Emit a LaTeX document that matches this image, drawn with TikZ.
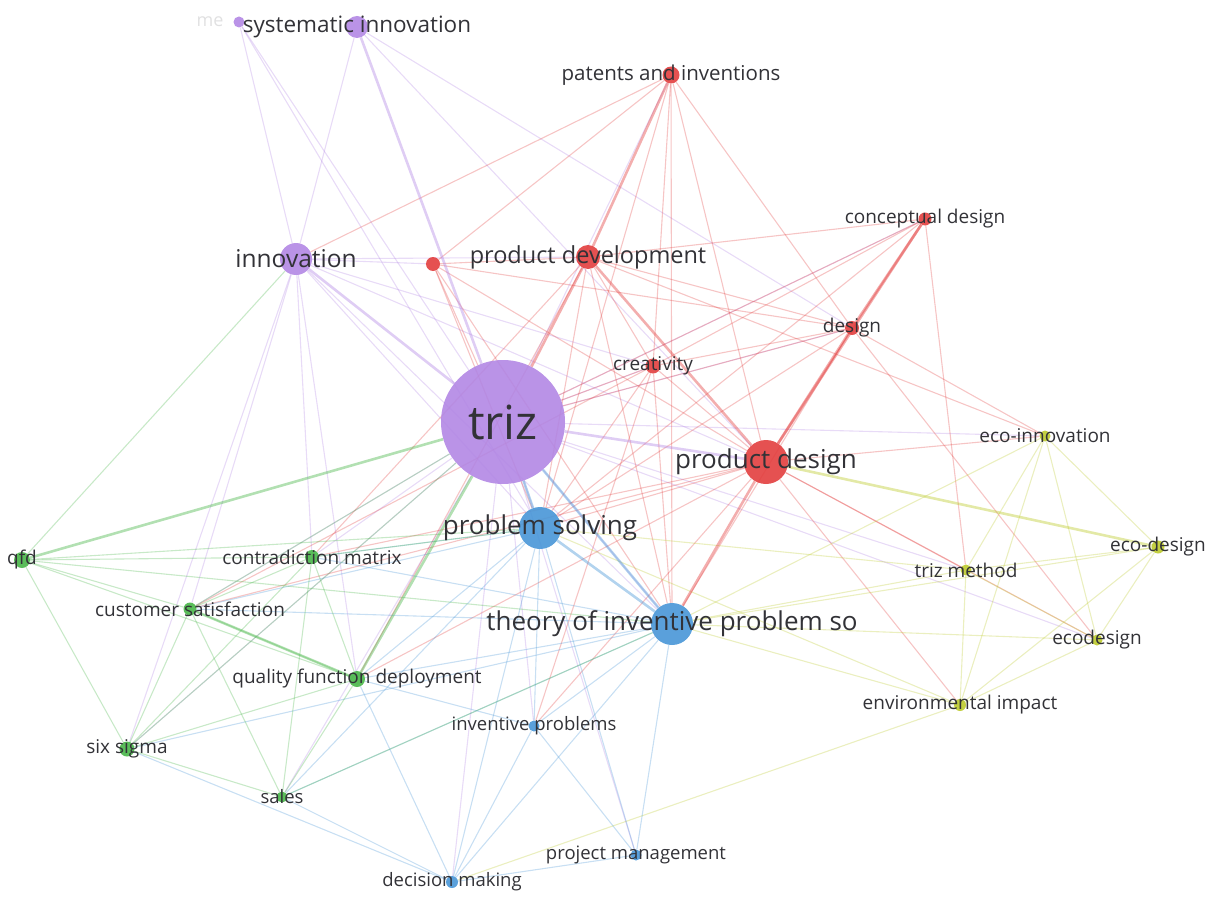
\documentclass[tikz,border=0pt]{standalone}
\usepackage{fontspec}
\setmainfont{Open Sans}
\pgfdeclarelayer{bg}
\pgfsetlayers{bg,main}
\definecolor{cp}{RGB}{178,135,228}
\definecolor{cr}{RGB}{226,62,62}
\definecolor{cb}{RGB}{72,150,215}
\definecolor{cg}{RGB}{72,182,72}
\definecolor{cy}{RGB}{188,202,44}
\definecolor{lbltext}{RGB}{50,50,55}
\tikzset{
  kw/.style 2 args={circle, inner sep=0pt, minimum size=#2pt, fill=#1, fill opacity=0.9, draw=none},
  lbl/.style={text=lbltext, inner sep=0pt, font=\fontsize{#1}{#1}\selectfont},
  ln/.style={draw=#1, draw opacity=0.3, line width=1.1pt},
  lnw/.style={draw=#1, draw opacity=0.42, line width=2.6pt},
}
\begin{document}
\begin{tikzpicture}[x=1pt,y=-1pt]
\useasboundingbox (0,0) rectangle (1222,896);
% keyword circles
\node[kw={cp}{124}] (triz) at (503,422) {};
\node[kw={cp}{22}] (sysinn) at (357,27) {};
\node[kw={cp}{11}] (me) at (239,22) {};
\node[kw={cp}{32}] (innov) at (296,259) {};
\node[kw={cr}{17}] (pat) at (671,75) {};
\node[kw={cr}{13}] (concept) at (925,219) {};
\node[kw={cr}{14}] (rsmall) at (433,264) {};
\node[kw={cr}{24}] (proddev) at (588,257) {};
\node[kw={cr}{14}] (design) at (852,328) {};
\node[kw={cr}{15}] (creat) at (653,366) {};
\node[kw={cr}{44}] (proddes) at (766,462) {};
\node[kw={cy}{11}] (ecoinn) at (1045,436) {};
\node[kw={cy}{13}] (ecodes) at (1158,547) {};
\node[kw={cy}{11}] (trizm) at (966,570) {};
\node[kw={cy}{11}] (ecod) at (1097,640) {};
\node[kw={cy}{12}] (env) at (960,705) {};
\node[kw={cb}{42}] (probsolv) at (540,528) {};
\node[kw={cb}{42}] (theory) at (672,624) {};
\node[kw={cb}{11}] (invprob) at (534,726) {};
\node[kw={cb}{11}] (projm) at (636,855) {};
\node[kw={cb}{12}] (decm) at (452,882) {};
\node[kw={cg}{16}] (qfd) at (22,560) {};
\node[kw={cg}{14}] (contra) at (312,557) {};
\node[kw={cg}{13}] (custsat) at (190,609) {};
\node[kw={cg}{16}] (qfdep) at (357,679) {};
\node[kw={cg}{15}] (sixs) at (127,749) {};
\node[kw={cg}{11}] (sales) at (282,797) {};
% co-occurrence links
\begin{pgfonlayer}{bg}
\foreach \a/\b in {me/innov,me/triz,me/probsolv,sysinn/innov,sysinn/proddes,sysinn/design,
  innov/proddev,innov/rsmall,innov/probsolv,innov/theory,innov/contra,innov/custsat,innov/sixs,
  innov/proddes,innov/creat,innov/qfdep,triz/probsolv,triz/theory,triz/contra,triz/custsat,
  triz/sixs,triz/sales,triz/invprob,triz/decm,triz/projm,triz/creat,triz/design,triz/concept,
  triz/pat,triz/ecoinn,triz/trizm,triz/ecod}
  \draw[ln=cp] (\a) -- (\b);
\foreach \a/\b in {pat/rsmall,pat/innov,pat/proddes,pat/design,pat/creat,pat/theory,pat/probsolv,
  concept/proddev,concept/creat,concept/trizm,concept/triz,concept/probsolv,rsmall/proddev,
  rsmall/triz,rsmall/probsolv,rsmall/proddes,rsmall/design,rsmall/theory,proddev/creat,
  proddev/design,proddev/probsolv,proddev/theory,proddev/qfdep,proddev/contra,proddev/ecoinn,
  design/creat,design/triz,design/ecoinn,design/ecod,design/theory,design/probsolv,
  creat/proddes,creat/triz,creat/probsolv,creat/theory,creat/invprob,creat/custsat,
  proddes/probsolv,proddes/ecoinn,proddes/trizm,proddes/ecod,proddes/env,
  proddes/qfdep,proddes/contra,proddes/custsat,proddes/invprob}
  \draw[ln=cr] (\a) -- (\b);
\foreach \a/\b in {ecoinn/ecodes,ecoinn/ecod,ecoinn/trizm,ecoinn/env,ecoinn/theory,
  ecodes/trizm,ecodes/ecod,ecodes/env,ecodes/theory,trizm/ecod,trizm/env,trizm/theory,
  ecod/env,ecod/theory,env/theory,env/probsolv,env/decm,trizm/probsolv}
  \draw[ln=cy] (\a) -- (\b);
\foreach \a/\b in {probsolv/invprob,probsolv/projm,probsolv/decm,probsolv/qfdep,probsolv/contra,
  probsolv/custsat,probsolv/sales,theory/invprob,theory/projm,theory/decm,theory/qfdep,
  theory/contra,theory/custsat,theory/sixs,theory/sales,invprob/decm,invprob/projm,
  invprob/qfdep,projm/decm,decm/qfdep,decm/sixs,decm/sales}
  \draw[ln=cb] (\a) -- (\b);
\foreach \a/\b in {qfd/custsat,qfd/contra,qfd/qfdep,qfd/sixs,qfd/innov,qfd/theory,
  contra/custsat,contra/qfdep,contra/sixs,contra/sales,contra/probsolv,custsat/qfdep,
  custsat/sixs,custsat/sales,custsat/triz,qfdep/sixs,qfdep/sales,sixs/sales,sixs/triz,
  sales/theory,qfd/probsolv}
  \draw[ln=cg] (\a) -- (\b);
% strongest links
\draw[lnw=cp] (sysinn) -- (triz);
\draw[lnw=cp] (innov) -- (triz);
\draw[lnw=cp] (triz) -- (proddes);
\draw[lnw=cr] (proddev) -- (triz);
\draw[lnw=cr] (pat) -- (proddev);
\draw[lnw=cr] (proddev) -- (proddes);
\draw[lnw=cr] (design) -- (proddes);
\draw[lnw=cr] (concept) -- (design);
\draw[lnw=cr] (concept) -- (proddes);
\draw[lnw=cr] (proddes) -- (theory);
\draw[lnw=cb] (probsolv) -- (theory);
\draw[lnw=cb] (triz) -- (probsolv);
\draw[lnw=cb] (triz) -- (theory);
\draw[lnw=cy] (proddes) -- (ecodes);
\draw[lnw=cg] (qfd) -- (triz);
\draw[lnw=cg] (qfdep) -- (triz);
\draw[lnw=cg] (custsat) -- (qfdep);
\end{pgfonlayer}
% labels
\node[lbl=47] (l-triz) at (triz) {triz};
\node[lbl=22.5] (l-sysinn) at (sysinn) {systematic innovation};
\node[lbl=18, text opacity=0.15] (l-me) at (210,22) {me};
\node[lbl=24.5] (l-innov) at (innov) {innovation};
\node[lbl=20.5] (l-pat) at (pat) {patents and inventions};
\node[lbl=19] (l-concept) at (concept) {conceptual design};
\node[lbl=23.5] (l-proddev) at (proddev) {product development};
\node[lbl=19] (l-design) at (design) {design};
\node[lbl=19] (l-creat) at (creat) {creativity};
\node[lbl=26] (l-proddes) at (proddes) {product design};
\node[lbl=19] (l-ecoinn) at (ecoinn) {eco-innovation};
\node[lbl=19] (l-ecodes) at (ecodes) {eco-design};
\node[lbl=19] (l-trizm) at (trizm) {triz method};
\node[lbl=19] (l-ecod) at (ecod) {ecodesign};
\node[lbl=19] (l-env) at (env) {environmental impact};
\node[lbl=26] (l-probsolv) at (probsolv) {problem solving};
\node[lbl=26] (l-theory) at (theory) {theory of inventive problem so};
\node[lbl=18.5] (l-invprob) at (invprob) {inventive problems};
\node[lbl=18.5] (l-projm) at (projm) {project management};
\node[lbl=18.5] (l-decm) at (decm) {decision making};
\node[lbl=19] (l-qfd) at (qfd) {qfd};
\node[lbl=19] (l-contra) at (contra) {contradiction matrix};
\node[lbl=19] (l-custsat) at (custsat) {customer satisfaction};
\node[lbl=19] (l-qfdep) at (qfdep) {quality function deployment};
\node[lbl=19] (l-sixs) at (sixs) {six sigma};
\node[lbl=18.5] (l-sales) at (sales) {sales};
\end{tikzpicture}
\end{document}
